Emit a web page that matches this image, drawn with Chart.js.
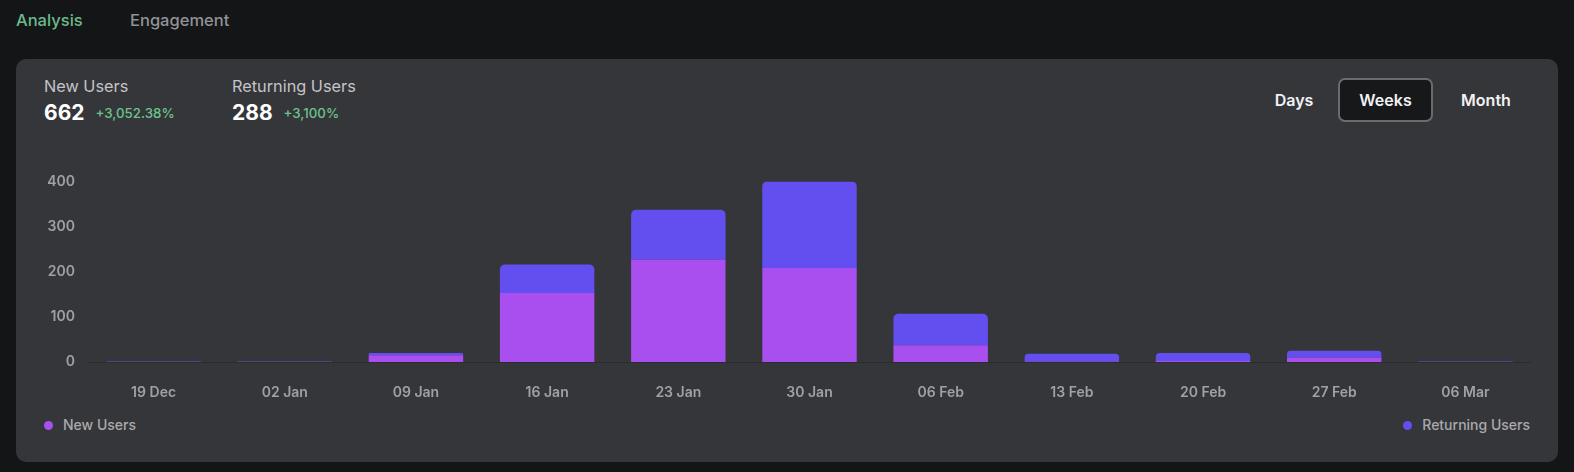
<!DOCTYPE html>
<html>
<head>
<meta charset="utf-8">
<script src="https://cdn.jsdelivr.net/npm/chart.js@4.4.1/dist/chart.umd.min.js"></script>
<style>
  html,body{margin:0;padding:0;background:#141517;width:1574px;height:472px;overflow:hidden;font-family:Inter,"Noto Sans",sans-serif;}
  .tab{position:absolute;top:10px;font-size:16.5px;font-weight:500;}
  .card{position:absolute;left:16px;top:59px;width:1542px;height:403px;background:#35363a;border-radius:10px;}
  .stat{position:absolute;top:77px;}
  .stat .lbl{font-size:16.3px;color:#c4c4c8;line-height:19px;}
  .stat .val{margin-top:4px;font-size:21px;font-weight:700;color:#ffffff;line-height:25px;}
  .stat .pct{font-size:13.3px;font-weight:500;color:#6cc48c;margin-left:11px;position:relative;top:-2px;}
  .btn{position:absolute;top:78px;height:44px;line-height:44px;font-size:16px;font-weight:600;color:#f2f2f4;text-align:center;box-sizing:border-box;}
  .btn.sel{background:#17181a;border:2px solid #6a6b70;border-radius:7px;line-height:40px;}
  .legend{position:absolute;top:416px;font-size:14px;font-weight:500;color:#a9a9ae;line-height:18px;}
  .legend .dot{display:inline-block;width:9px;height:9px;border-radius:50%;margin-right:10px;vertical-align:0px;}
  #wrap{position:absolute;left:30px;top:160px;width:1501px;height:242px;}
</style>
</head>
<body>
<div class="tab" style="left:16px;color:#6cba8c;">Analysis</div>
<div class="tab" style="left:130px;color:#929296;">Engagement</div>
<div class="card"></div>
<div class="stat" style="left:44px;"><div class="lbl">New Users</div><div class="val">662<span class="pct">+3,052.38%</span></div></div>
<div class="stat" style="left:232px;"><div class="lbl">Returning Users</div><div class="val">288<span class="pct">+3,100%</span></div></div>
<div class="btn" style="left:1262px;width:64px;">Days</div>
<div class="btn sel" style="left:1338px;width:95px;">Weeks</div>
<div class="btn" style="left:1450px;width:72px;">Month</div>
<div id="wrap"><canvas id="c"></canvas></div>
<div class="legend" id="legNew" style="left:44px;"></div>
<div class="legend" id="legRet" style="right:44px;"></div>
<script>
const categories = ["19 Dec","02 Jan","09 Jan","16 Jan","23 Jan","30 Jan","06 Feb","13 Feb","20 Feb","27 Feb","06 Mar"];
const newUsers = [0.6, 0.6, 15, 153, 227, 208, 37, 1, 2, 10, 0.6];
const returningUsers = [0.6, 0.6, 5, 63, 110, 192, 70, 17, 18, 15, 0.6];
const yTicks = [0, 100, 200, 300, 400];
const seriesNames = ["New Users", "Returning Users"];
const colors = ["#a94ff0", "#634ff0"];

document.getElementById('legNew').innerHTML = '<span class="dot" style="background:'+colors[0]+'"></span>' + seriesNames[0];
document.getElementById('legRet').innerHTML = '<span class="dot" style="background:'+colors[1]+'"></span>' + seriesNames[1];

new Chart(document.getElementById('c'), {
  type: 'bar',
  data: {
    labels: categories,
    datasets: [
      {label: seriesNames[0], data: newUsers, backgroundColor: colors[0], borderRadius: 0, borderSkipped: false, categoryPercentage: 0.8, barPercentage: 0.9},
      {label: seriesNames[1], data: returningUsers, backgroundColor: colors[1], borderRadius: {topLeft: 5, topRight: 5, bottomLeft: 0, bottomRight: 0}, borderSkipped: false, categoryPercentage: 0.8, barPercentage: 0.9}
    ]
  },
  options: {
    responsive: true,
    maintainAspectRatio: false,
    animation: false,
    layout: {padding: {top: 0, right: 0, left: 0, bottom: 0}},
    plugins: {legend: {display: false}, tooltip: {enabled: false}},
    scales: {
      x: {
        stacked: true,
        grid: {display: false, drawTicks: false},
        border: {display: true, color: '#2b2c2f', width: 1},
        ticks: {color: '#a0a0a5', font: {family: 'Inter', size: 14, weight: '600'}, padding: 22},
        afterFit: s => { s.height = 40; }
      },
      y: {
        stacked: true,
        min: 0, max: 400,
        afterBuildTicks: s => { s.ticks = yTicks.map(v => ({value: v})); },
        grid: {display: false, drawTicks: false},
        border: {display: false},
        ticks: {color: '#a0a0a5', font: {family: 'Inter', size: 14, weight: '600'}, padding: 13},
        afterFit: s => { s.width = 58; }
      }
    }
  }
});
</script>
</body>
</html>
